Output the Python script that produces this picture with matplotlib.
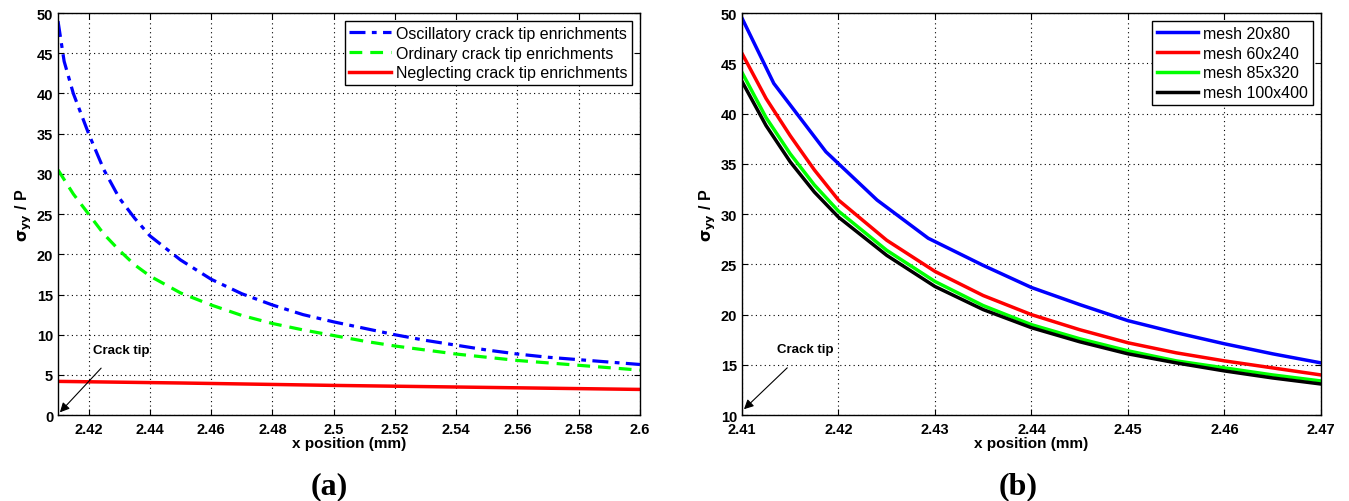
import matplotlib
matplotlib.use("Agg")
import matplotlib.pyplot as plt
from matplotlib.ticker import FuncFormatter, MultipleLocator

plt.rcParams['font.family'] = ['Liberation Sans', 'DejaVu Sans']

# panel (a) data
xa_osc = [2.41, 2.412, 2.415, 2.42, 2.425, 2.43, 2.435, 2.44, 2.45, 2.46, 2.47, 2.48,
          2.49, 2.5, 2.51, 2.52, 2.53, 2.54, 2.55, 2.56, 2.57, 2.58, 2.59, 2.6]
ya_osc = [49.0, 44.0, 40.0, 35.0, 30.5, 27.0, 24.5, 22.3, 19.3, 16.9, 15.1, 13.7,
          12.5, 11.6, 10.8, 10.0, 9.3, 8.7, 8.1, 7.6, 7.2, 6.9, 6.6, 6.3]
xa_ord = [2.41, 2.415, 2.42, 2.425, 2.43, 2.435, 2.44, 2.45, 2.46, 2.47, 2.48, 2.49,
          2.5, 2.51, 2.52, 2.53, 2.54, 2.55, 2.56, 2.57, 2.58, 2.59, 2.6]
ya_ord = [30.5, 27.5, 25.0, 22.5, 20.5, 18.7, 17.3, 15.2, 13.7, 12.4, 11.4, 10.6,
          9.9, 9.2, 8.6, 8.1, 7.6, 7.2, 6.8, 6.5, 6.2, 5.9, 5.6]
xa_neg = [2.41, 2.45, 2.5, 2.55, 2.6]
ya_neg = [4.2, 4.0, 3.7, 3.45, 3.2]

# panel (b) data
xb_20 = [2.41, 2.4133, 2.4187, 2.424, 2.4293, 2.435, 2.44, 2.445, 2.45, 2.455, 2.46, 2.465, 2.47]
yb_20 = [49.5, 43.0, 36.2, 31.4, 27.6, 24.9, 22.7, 21.0, 19.4, 18.2, 17.1, 16.1, 15.2]
xb = [2.41, 2.4125, 2.415, 2.4175, 2.42, 2.425, 2.43, 2.435, 2.44, 2.445, 2.45, 2.455, 2.46, 2.465, 2.47]
yb_60 = [46.0, 41.5, 37.8, 34.4, 31.4, 27.4, 24.3, 21.9, 20.0, 18.5, 17.2, 16.2, 15.4, 14.7, 14.0]
yb_85 = [44.1, 39.6, 36.0, 32.9, 30.3, 26.4, 23.3, 20.9, 19.0, 17.6, 16.4, 15.4, 14.7, 14.0, 13.4]
yb_100 = [43.2, 38.8, 35.2, 32.2, 29.7, 25.9, 22.8, 20.5, 18.7, 17.3, 16.1, 15.2, 14.4, 13.7, 13.1]


def style_axes(ax):
    ax.grid(True, color='black', linestyle=(0, (1, 3)), linewidth=0.8)
    ax.tick_params(direction='in', top=True, right=True, length=4, width=0.8,
                   labelsize=10.5)
    ax.tick_params(axis='x', pad=5)
    for lab in ax.get_xticklabels() + ax.get_yticklabels():
        lab.set_fontweight('bold')
    for sp in ax.spines.values():
        sp.set_linewidth(1.0)
    ax.xaxis.set_major_formatter(FuncFormatter(lambda v, p: '%g' % round(v, 4)))
    ax.set_xlabel('x position (mm)', fontsize=11, fontweight='bold', labelpad=0)
    ax.set_ylabel(r'$\mathbf{\sigma_{yy}}$ / P', fontsize=11.5, fontweight='bold', labelpad=2)


def add_legend(ax):
    leg = ax.legend(loc='upper right', fontsize=11.5, fancybox=False, framealpha=1,
                    edgecolor='black', handlelength=2.6, handletextpad=0.3,
                    borderpad=0.3, labelspacing=0.3, borderaxespad=0.5)
    leg.get_frame().set_linewidth(1.0)
    return leg


fig = plt.figure(figsize=(13.49, 5.02), dpi=100)
ax1 = fig.add_axes([0.043, 0.171, 0.4314, 0.801])
ax2 = fig.add_axes([0.550, 0.171, 0.4292, 0.801])

ax1.plot(xa_osc, ya_osc, color='#0000ff', lw=2.3, dashes=(5, 2, 1.5, 2),
         label='Oscillatory crack tip enrichments')
ax1.plot(xa_ord, ya_ord, color='#00ff00', lw=2.3, dashes=(4, 2.5),
         label='Ordinary crack tip enrichments')
ax1.plot(xa_neg, ya_neg, color='#ff0000', lw=2.5,
         label='Neglecting crack tip enrichments')
ax1.set_xlim(2.41, 2.6)
ax1.set_ylim(0, 50)
ax1.xaxis.set_major_locator(MultipleLocator(0.02))
ax1.yaxis.set_major_locator(MultipleLocator(5))
style_axes(ax1)
ax1.annotate('', xy=(2.41, 0.1), xytext=(2.4247, 6.1),
             arrowprops=dict(arrowstyle='-|>', color='black', lw=0.8, mutation_scale=14))
ax1.text(2.4306, 8.1, 'Crack tip', fontsize=9.5, fontweight='bold', ha='center', va='center')
add_legend(ax1)

ax2.plot(xb_20, yb_20, color='#0000ff', lw=2.5, label='mesh 20x80')
ax2.plot(xb, yb_60, color='#ff0000', lw=2.5, label='mesh 60x240')
ax2.plot(xb, yb_85, color='#00ff00', lw=2.5, label='mesh 85x320')
ax2.plot(xb, yb_100, color='black', lw=2.5, label='mesh 100x400')
ax2.set_xlim(2.41, 2.47)
ax2.set_ylim(10, 50)
ax2.xaxis.set_major_locator(MultipleLocator(0.01))
ax2.yaxis.set_major_locator(MultipleLocator(5))
style_axes(ax2)
ax2.annotate('', xy=(2.41, 10.4), xytext=(2.4149, 14.9),
             arrowprops=dict(arrowstyle='-|>', color='black', lw=0.8, mutation_scale=14))
ax2.text(2.4166, 16.6, 'Crack tip', fontsize=9.5, fontweight='bold', ha='center', va='center')
add_legend(ax2)

fig.text(0.244, 0.03, '(a)', fontsize=23, fontweight='bold', family='Liberation Serif',
         ha='center', va='center')
fig.text(0.755, 0.03, '(b)', fontsize=23, fontweight='bold', family='Liberation Serif',
         ha='center', va='center')

fig.savefig('out.png', dpi=100)
